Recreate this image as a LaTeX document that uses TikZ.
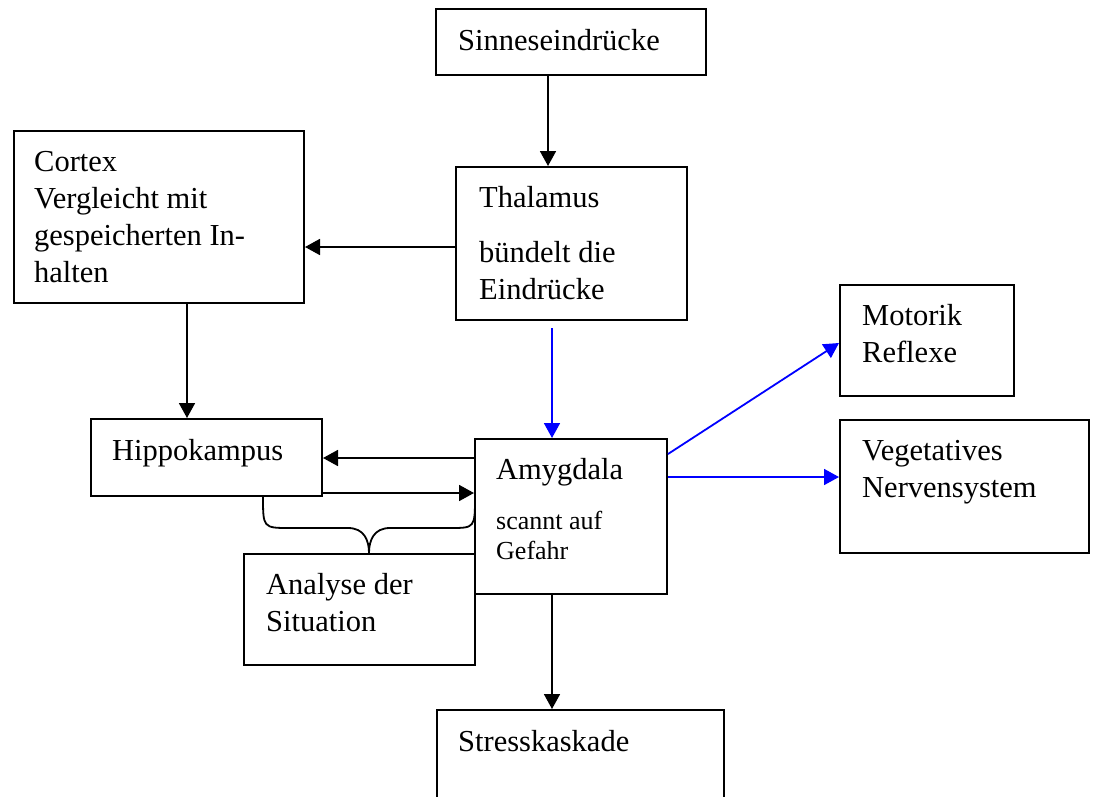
\documentclass[tikz,border=0pt]{standalone}
\usepackage{fontspec}
\setmainfont{Liberation Serif}
\usetikzlibrary{arrows.meta}
\definecolor{arrblue}{RGB}{0,0,255}
\begin{document}
\begin{tikzpicture}[x=1pt,y=-1pt,
  box/.style={draw, line width=2pt, rectangle, inner sep=0pt},
  txt/.style={anchor=base west, inner sep=0pt, font=\fontsize{30.5}{37}\selectfont},
  smalltxt/.style={anchor=base west, inner sep=0pt, font=\fontsize{26}{31}\selectfont},
  arr/.style={-{Triangle[length=15pt,width=16pt]}, line width=1.8pt},
  bluearr/.style={arr, draw=arrblue}]
\useasboundingbox (0,0) rectangle (1096,796);
\clip (0,0) rectangle (1096,796);
% boxes
\node[box, minimum width=270pt, minimum height=66pt] (sinn) at (571,42) {};
\node[box, minimum width=231pt, minimum height=153pt] (thal) at (571.5,243.5) {};
\node[box, minimum width=290pt, minimum height=172pt] (cort) at (159,217) {};
\node[box, minimum width=174pt, minimum height=111pt] (moto) at (927,340.5) {};
\node[box, minimum width=249pt, minimum height=133pt] (vege) at (964.5,486) {};
\node[box, minimum width=231pt, minimum height=77pt] (hipp) at (206.5,457.5) {};
\node[box, minimum width=192pt, minimum height=155pt] (amyg) at (571,516.5) {};
\node[box, minimum width=231pt, minimum height=111pt] (anal) at (359.5,609.5) {};
\node[box, minimum width=287pt, minimum height=120pt] (stre) at (580.5,770) {};
% texts
\node[txt] (tsinn) at (458,50) {Sinneseindrücke};
\node[txt] (tthal1) at (479,207) {Thalamus};
\node[txt] (tthal2) at (479,262) {bündelt die};
\node[txt] (tthal3) at (479,299) {Eindrücke};
\node[txt] (tcort1) at (34,171) {Cortex};
\node[txt] (tcort2) at (34,208) {Vergleicht mit};
\node[txt] (tcort3) at (34,245) {gespeicherten In-};
\node[txt] (tcort4) at (34,282) {halten};
\node[txt] (tmoto1) at (862,325) {Motorik};
\node[txt] (tmoto2) at (862,362) {Reflexe};
\node[txt] (tvege1) at (862,460) {Vegetatives};
\node[txt] (tvege2) at (862,497) {Nervensystem};
\node[txt] (thipp) at (112,460) {Hippokampus};
\node[txt] (tamyg1) at (496,479) {Amygdala};
\node[smalltxt] (tamyg2) at (496,529) {scannt auf};
\node[smalltxt] (tamyg3) at (496,559) {Gefahr};
\node[txt] (tanal1) at (266,594) {Analyse der};
\node[txt] (tanal2) at (266,631) {Situation};
\node[txt] (tstre) at (458,751) {Stresskaskade};
% connectors
\draw[arr] (sinn.south -| 548,0) -- (thal.north -| 548,0);
\draw[arr] (thal.west |- 0,247) -- (cort.east |- 0,247);
\draw[arr] (cort.south -| 187,0) -- (hipp.north -| 187,0);
\coordinate (thalout) at (552,328);
\draw[bluearr] (thalout) -- (amyg.north -| thalout);
\draw[arr] (amyg.west |- 0,458) -- (hipp.east |- 0,458);
\draw[arr] (hipp.east |- 0,493) -- (amyg.west |- 0,493);
\draw[bluearr] (amyg.east |- 0,454) -- (moto.west |- 0,343);
\draw[bluearr] (amyg.east |- 0,477) -- (vege.west |- 0,477);
\draw[arr] (amyg.south -| 552,0) -- (stre.north -| 552,0);
% brace
\draw[line width=1.8pt] (263,496) .. controls (263,528) and (263,528) .. (290,528)
  -- (348,528) .. controls (364,528) and (369,540) .. (369,553)
  .. controls (369,540) and (374,528) .. (390,528)
  -- (450,528) .. controls (475,528) and (475,528) .. (475,496);
\end{tikzpicture}
\end{document}
